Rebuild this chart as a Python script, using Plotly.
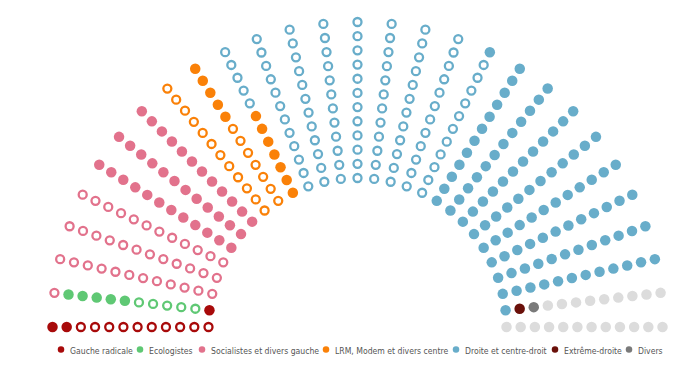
import numpy as np
import plotly.graph_objects as go

# ---- data (French Senate, 348 seats) ----
groups = ["Gauche radicale", "Ecologistes", "Socialistes et divers gauche",
          "LRM, Modem et divers centre", "Droite et centre-droit",
          "Extrême-droite", "Divers"]
seats_open = [10, 5, 37, 19, 100, 0, 0]      # seats not up for renewal (hollow)
seats_filled = [3, 5, 36, 12, 98, 1, 1]     # seats renewed (solid)
undetermined = 21
colors = ["#a80a0a", "#5fc874", "#e2728c", "#fa8108", "#68adca", "#6a100a", "#7a7a7a"]
grey_color = "#dcdcdc"

n_spokes = 29
seats_per_spoke = 12
r_in, r_out = 149.0, 305.0

# legend layout (x positions of the legend dots, page pixels)
legend_x = [61, 140, 202, 326, 456, 555, 629]

# ---- build seat sequence ----
seq = []  # (group index, style)
for g in range(len(groups)):
    seq += [(g, "open")] * seats_open[g]
    seq += [(g, "filled")] * seats_filled[g]
seq += [(-1, "grey")] * undetermined

idx = np.arange(len(seq))
spoke = idx // seats_per_spoke
ring = idx % seats_per_spoke
theta = np.pi - spoke * np.pi / (n_spokes - 1)
r = r_in + ring * (r_out - r_in) / (seats_per_spoke - 1)
xs = r * np.cos(theta)
ys = r * np.sin(theta)

fig = go.Figure()

def add(mask, name, color, style):
    sel = np.array(mask)
    if not sel.any():
        return
    if style == "open":
        marker = dict(symbol="circle-open", size=8, color=color, line=dict(width=2.3, color=color))
    else:
        marker = dict(symbol="circle", size=10.5, color=color, line=dict(width=0))
    fig.add_trace(go.Scatter(x=xs[sel], y=ys[sel], mode="markers", marker=marker,
                             name=name, showlegend=False, hoverinfo="name"))

grp = np.array([s[0] for s in seq])
sty = np.array([s[1] for s in seq])
for g, name in enumerate(groups):
    add((grp == g) & (sty == "open"), name, colors[g], "open")
    add((grp == g) & (sty == "filled"), name, colors[g], "filled")
add(sty == "grey", "Non attribué", grey_color, "filled")

# ---- custom legend ----
cx = 357.5
fig.add_trace(go.Scatter(x=[lx - cx for lx in legend_x], y=[-22.5] * len(groups), mode="markers",
                         marker=dict(size=6.5, color=colors), showlegend=False, hoverinfo="skip"))
for g, name in enumerate(groups):
    fig.add_annotation(x=legend_x[g] - cx + 6.5, y=-24, text=name, showarrow=False,
                       xanchor="left", yanchor="middle",
                       font=dict(family="Liberation Sans Narrow, DejaVu Sans Condensed, sans-serif",
                                 size=8.6, color="#555555"))

# page body has an 8px margin: shift the axes so the drawing sits where it should
W, H, off = 680, 366, 8
fig.update_layout(
    width=W, height=H,
    margin=dict(l=0, r=0, t=0, b=0),
    paper_bgcolor="white", plot_bgcolor="white",
    xaxis=dict(range=[-(cx - off), W - (cx - off)], visible=False, fixedrange=True),
    yaxis=dict(range=[(327 - off) - H, 327 - off], visible=False, fixedrange=True),
    showlegend=False,
)

fig.write_html("out.html")
